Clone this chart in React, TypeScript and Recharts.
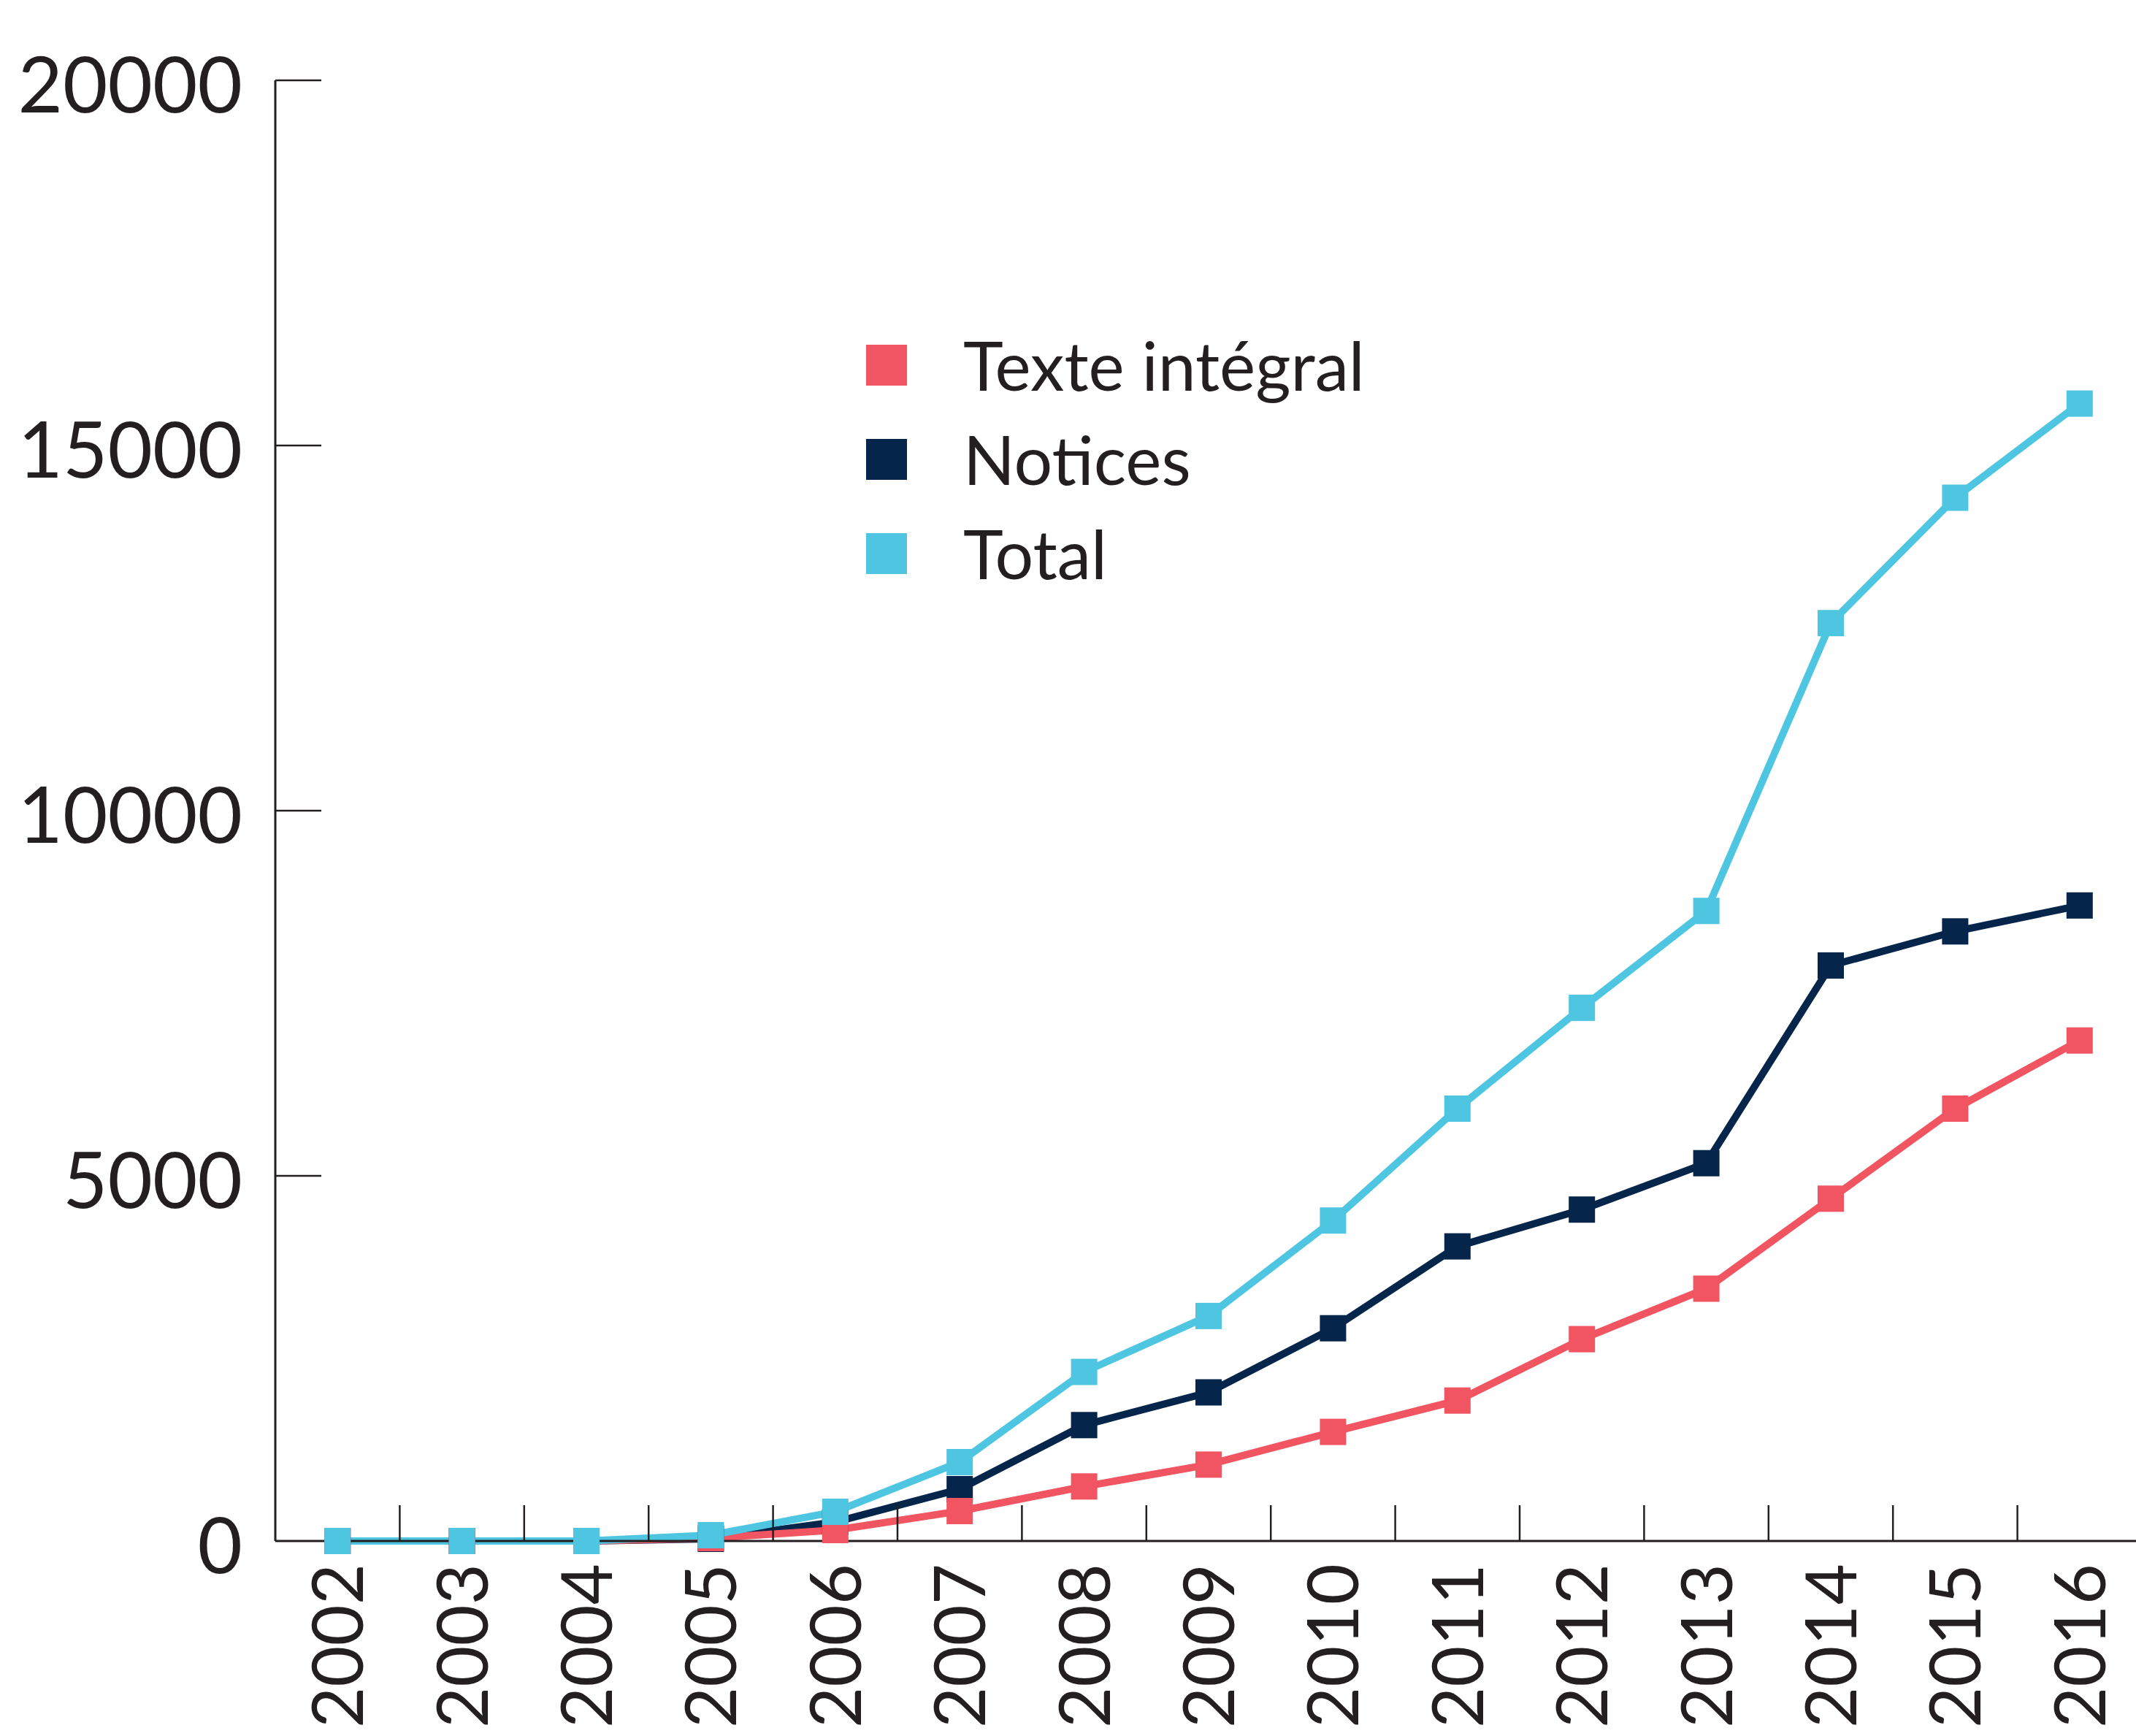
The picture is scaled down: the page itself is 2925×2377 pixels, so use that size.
import React from 'react';
import { LineChart, Line, XAxis, YAxis } from 'recharts';

const years = [2002, 2003, 2004, 2005, 2006, 2007, 2008, 2009, 2010, 2011, 2012, 2013, 2014, 2015, 2016];
const texteIntegral = [0, 0, 0, 40, 150, 410, 747, 1046, 1494, 1923, 2764, 3455, 4687, 5920, 6853];
const notices = [0, 0, 0, 30, 260, 710, 1587, 2035, 2913, 4034, 4538, 5173, 7880, 8347, 8702];
const total = [0, 0, 0, 80, 400, 1080, 2315, 3081, 4388, 5920, 7301, 8627, 12568, 14285, 15574];
const yTicks = [0, 5000, 10000, 15000, 20000];

const legendNames = ['Texte intégral', 'Notices', 'Total'];
const legendColors = ['#F05561', '#05264A', '#4FC6E1'];

const data = years.map((year, i) => ({
  year,
  texte: texteIntegral[i],
  notices: notices[i],
  total: total[i],
}));

const INK = '#231F20';
const FONT = 'Lato, "Open Sans", sans-serif';

const squareDot = (color: string) => (props: any) => {
  const { cx, cy, index } = props;
  if (cx == null || cy == null) return <g key={`d-${index}`} />;
  return <rect key={`d-${index}`} x={cx - 18} y={cy - 18} width={36} height={36} fill={color} />;
};

const YTick = (props: any) => {
  const { x, y, payload } = props;
  return (
    <g>
      {payload.value !== 0 && <line x1={x} y1={y} x2={x + 63} y2={y} stroke={INK} strokeWidth={2.5} />}
      <text x={x - 45} y={y} dy={44} textAnchor="end" fill={INK} fontSize={106} fontFamily={FONT}>
        {payload.value}
      </text>
    </g>
  );
};

const XLabelTick = (props: any) => {
  const { x, y, payload, index, width } = props;
  const halfBand = Number(width) / years.length / 2;
  const isLast = index === years.length - 1;
  return (
    <g>
      {!isLast && Number.isFinite(halfBand) && (
        <line x1={x + halfBand} y1={y} x2={x + halfBand} y2={y - 49} stroke={INK} strokeWidth={2.5} />
      )}
      <text
        transform={`translate(${x}, ${y + 31}) rotate(-90)`}
        textAnchor="end"
        dy="0.36em"
        fill={INK}
        fontSize={97}
        fontFamily={FONT}
      >
        {payload.value}
      </text>
    </g>
  );
};

const LegendBox = () => (
  <div style={{ position: 'absolute', left: 1186, top: 435, fontFamily: FONT }}>
    {legendNames.map((name, i) => (
      <div key={name} style={{ display: 'flex', alignItems: 'center', height: 129 }}>
        <div style={{ width: 56, height: 56, background: legendColors[i] }} />
        <div style={{ marginLeft: 77, fontSize: 93, color: INK, lineHeight: '93px', whiteSpace: 'nowrap' }}>{name}</div>
      </div>
    ))}
  </div>
);

export default function App() {
  return (
    <div style={{ position: 'absolute', left: 0, top: 0, width: 2925, height: 2377, background: '#fff' }}>
      <LineChart
        width={2925}
        height={2377}
        data={data}
        margin={{ top: 110, right: -8, left: 0, bottom: 0 }}
      >
        <XAxis
          type="number"
          dataKey="year"
          domain={[2001.5, 2016.5]}
          allowDataOverflow
          ticks={years}
          interval={0}
          height={267}
          axisLine={{ stroke: INK, strokeWidth: 3 }}
          tickLine={false}
          tickSize={0}
          tickMargin={0}
          tick={<XLabelTick />}
        />
        <YAxis
          domain={[0, 20000]}
          ticks={yTicks}
          interval={0}
          width={377}
          axisLine={{ stroke: INK, strokeWidth: 3 }}
          tickLine={false}
          tickSize={0}
          tickMargin={0}
          tick={<YTick />}
        />
        <Line
          dataKey="notices"
          stroke={legendColors[1]}
          strokeWidth={10}
          dot={squareDot(legendColors[1])}
          activeDot={false}
          isAnimationActive={false}
        />
        <Line
          dataKey="texte"
          stroke={legendColors[0]}
          strokeWidth={10}
          dot={squareDot(legendColors[0])}
          activeDot={false}
          isAnimationActive={false}
        />
        <Line
          dataKey="total"
          stroke={legendColors[2]}
          strokeWidth={10}
          dot={squareDot(legendColors[2])}
          activeDot={false}
          isAnimationActive={false}
        />
      </LineChart>
      <LegendBox />
    </div>
  );
}
